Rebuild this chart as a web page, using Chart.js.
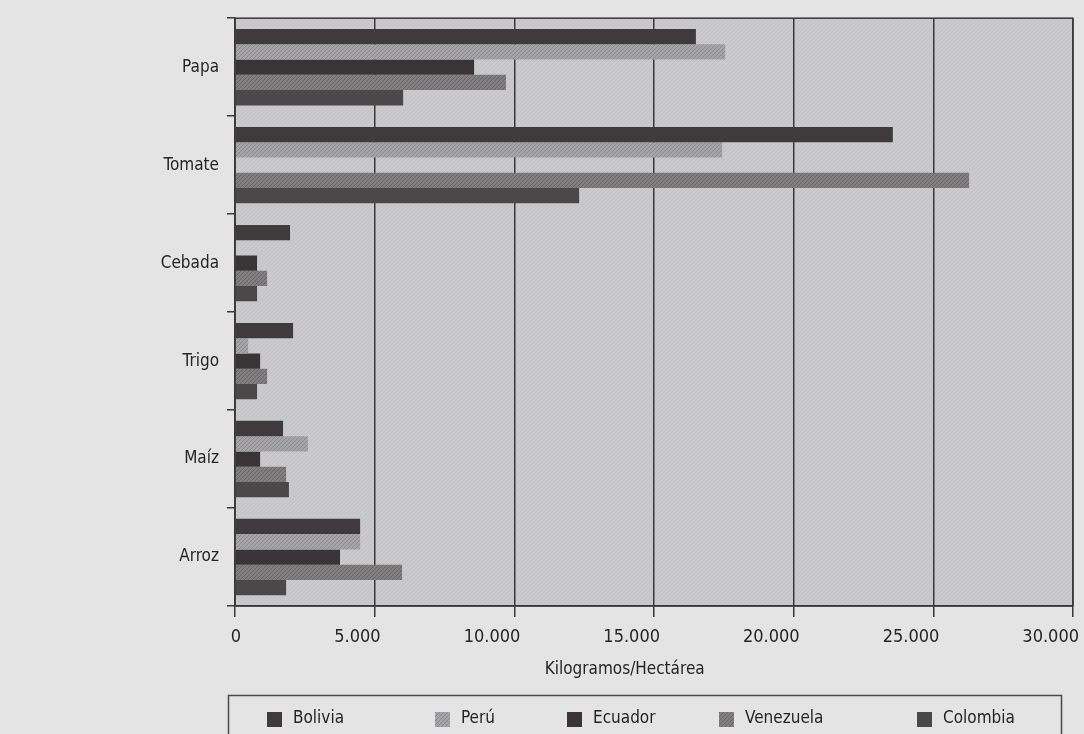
<!DOCTYPE html>
<html>
<head>
<meta charset="utf-8">
<script src="https://cdn.jsdelivr.net/npm/chart.js@4.4.1/dist/chart.umd.min.js"></script>
<style>
  html, body { margin: 0; padding: 0; background: #e4e4e4; }
  #wrap { width: 1084px; height: 734px; position: relative; }
</style>
</head>
<body>
<div id="wrap"><canvas id="c" width="1084" height="734"></canvas></div>
<script>
// Rendimiento por cultivo (kg/ha)
const cultivos = ['Papa', 'Tomate', 'Cebada', 'Trigo', 'Maíz', 'Arroz'];
const paises = ['Bolivia', 'Perú', 'Ecuador', 'Venezuela', 'Colombia'];
const bolivia   = [16500, 23550, 1970, 2080, 1720, 4480];
const peru      = [17550, 17440, null,  470, 2610, 4480];
const ecuador   = [ 8560,  null,  790,  900,  900, 3760];
const venezuela = [ 9700, 26280, 1150, 1150, 1830, 5980];
const colombia  = [ 6020, 12320,  790,  790, 1930, 1830];
const ticksX = ['0', '5.000', '10.000', '15.000', '20.000', '25.000', '30.000'];
const tituloX = 'Kilogramos/Hectárea';

const FONT = "'Liberation Sans Narrow', 'DejaVu Sans Condensed', 'Arial Narrow', sans-serif";
const INK = '#262425';
const LINE = '#3a3839';

const canvas = document.getElementById('c');
const ctx = canvas.getContext('2d');

// small diagonal hatch tiles used as bar fills
function hatch(base, stroke) {
  const t = document.createElement('canvas');
  t.width = 4; t.height = 4;
  const g = t.getContext('2d');
  g.fillStyle = base; g.fillRect(0, 0, 4, 4);
  g.fillStyle = stroke;
  for (let i = 0; i < 4; i++) g.fillRect(i, 3 - i, 1, 1);
  return ctx.createPattern(t, 'repeat');
}

const fills = [
  '#3f3b3c',
  hatch('#a6a6a8', '#8a8a8e'),
  '#393536',
  hatch('#817f80', '#666465'),
  '#4b4849'
];
const plotBg = hatch('#cacacc', '#c3c3c5');

const series = [bolivia, peru, ecuador, venezuela, colombia];

Chart.defaults.font.family = FONT;
Chart.defaults.color = INK;

// plot background, frame, axis title and boxed legend
const decor = {
  id: 'decor',
  beforeDraw(chart) {
    const a = chart.chartArea;
    const c = chart.ctx;
    c.save();
    c.fillStyle = plotBg;
    c.fillRect(a.left, a.top, a.width, a.height);
    c.restore();
  },
  afterDatasetsDraw(chart) {
    const a = chart.chartArea;
    const c = chart.ctx;
    c.save();
    c.strokeStyle = LINE;
    c.lineWidth = 1.5;
    c.strokeRect(a.left, a.top, a.width, a.height);
    c.restore();
  },
  afterDraw(chart) {
    const a = chart.chartArea;
    const c = chart.ctx;
    c.save();
    // axis title
    c.fillStyle = INK;
    c.font = '17px ' + FONT;
    c.textAlign = 'center';
    c.textBaseline = 'middle';
    c.fillText(tituloX, a.left + a.width * 0.465, 670);

    // legend frame
    c.strokeStyle = '#4a4849';
    c.lineWidth = 1.5;
    c.strokeRect(228.5, 695.5, 833, 60);

    // legend entries
    const startX = [267, 435, 567, 719, 917];
    const items = chart.data.datasets;
    c.textAlign = 'left';
    items.forEach((ds, i) => {
      const x = startX[i];
      c.fillStyle = ds.backgroundColor;
      c.fillRect(x, 712, 15, 15);
      c.fillStyle = INK;
      c.fillText(ds.label, x + 26, 719);
    });
    c.restore();
  }
};

new Chart(canvas, {
  type: 'bar',
  data: {
    labels: cultivos,
    datasets: paises.map((p, i) => ({
      label: p,
      data: series[i],
      backgroundColor: fills[i],
      borderWidth: 0
    }))
  },
  options: {
    indexAxis: 'y',
    responsive: false,
    animation: false,
    layout: { padding: { top: 15, right: 11, left: 0, bottom: 0 } },
    datasets: { bar: { categoryPercentage: 0.78, barPercentage: 1.0 } },
    plugins: { legend: { display: false }, tooltip: { enabled: false } },
    scales: {
      x: {
        min: 0, max: 30000,
        ticks: {
          stepSize: 5000,
          callback: (v, i) => ticksX[i],
          align: 'end',
          labelOffset: 6,
          padding: 10,
          color: INK,
          font: { size: 18 },
          maxRotation: 0
        },
        grid: { color: LINE, lineWidth: 1.5, tickLength: 11 },
        border: { color: LINE, width: 1.5 },
        afterFit(s) { s.height = 128; }
      },
      y: {
        ticks: { padding: 8, color: INK, font: { size: 17 } },
        grid: { drawOnChartArea: false, tickLength: 8, color: LINE, lineWidth: 1.5, offset: true },
        border: { color: LINE, width: 1.5 },
        afterFit(s) { s.width = 235; }
      }
    }
  },
  plugins: [decor]
});
</script>
</body>
</html>
